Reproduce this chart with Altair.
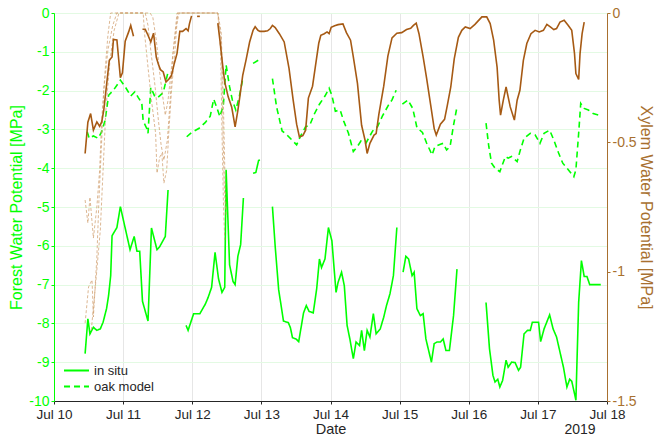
import altair as alt
import pandas as pd

# ---------------- data (day of July 2019, water potential in MPa) ----------------
# Forest water potential, in situ (left axis), gaps between segments
IS1_d = [10.45,10.49,10.52,10.57,10.62,10.67,10.71,10.76,10.79,10.82,10.84,10.91,10.96,11.10,11.16,11.20,11.24,11.28,11.36,11.41,11.49,11.53,11.61,11.65]
IS1_v = [-8.78,-7.88,-8.27,-8.10,-8.18,-8.14,-7.97,-7.62,-7.28,-6.77,-5.74,-5.53,-4.99,-6.10,-5.76,-6.14,-6.14,-7.43,-7.94,-5.54,-6.10,-6.02,-5.76,-4.56]
IS2_d = [11.91,11.94,12.02,12.11,12.19,12.23,12.28,12.33,12.38,12.43,12.47,12.49,12.54,12.59,12.62,12.66,12.70,12.74]
IS2_v = [-8.05,-8.18,-7.75,-7.75,-7.50,-7.33,-7.07,-6.17,-6.85,-7.20,-7.07,-4.04,-6.49,-6.92,-7.00,-6.27,-5.97,-4.77]
IS3_d = [12.88,12.92,12.96,12.98]
IS3_v = [-4.13,-4.11,-3.80,-3.79]
IS4_d = [13.16,13.20,13.25,13.32,13.39,13.42,13.45,13.50,13.54,13.61,13.65,13.69,13.75,13.80,13.84,13.87,13.92,13.97,14.02,14.08,
         14.11,14.16,14.20,14.24,14.28,14.33,14.37,14.42,14.45,14.49,14.53,14.57,14.62,14.66,14.72,14.77,14.81,14.86,14.91,14.96]
IS4_v = [-4.99,-6.02,-7.13,-7.94,-7.98,-8.11,-8.37,-8.40,-8.47,-7.73,-7.54,-7.69,-7.73,-7.11,-6.34,-6.56,-6.34,-5.53,-5.87,-7.20,
         -6.94,-6.68,-7.03,-8.05,-8.40,-8.91,-8.48,-8.57,-8.18,-8.70,-8.18,-8.35,-7.75,-8.27,-8.14,-7.84,-7.54,-7.24,-6.77,-5.53]
IS5_d = [15.05,15.09,15.13,15.18,15.21,15.25,15.30,15.34,15.38,15.46,15.50,15.54,15.59,15.63,15.67,15.72,15.78,15.83]
IS5_v = [-6.68,-6.27,-6.34,-6.77,-6.68,-7.62,-7.80,-7.75,-8.40,-9.00,-8.52,-8.48,-8.48,-8.40,-8.70,-8.70,-7.80,-6.60]
IS6_d = [16.25,16.30,16.35,16.38,16.42,16.45,16.49,16.54,16.57,16.62,16.67,16.72,16.75,16.80,16.85,16.89,16.92,16.99,17.01,17.04,
         17.09,17.17,17.22,17.27,17.32,17.37,17.42,17.46,17.49,17.53,17.55,17.59,17.63,17.67,17.71,17.75,17.80,17.91]
IS6_v = [-7.46,-8.65,-9.34,-9.51,-9.44,-9.64,-9.47,-8.95,-9.13,-9.00,-9.01,-9.21,-9.13,-8.27,-8.18,-8.18,-7.97,-7.97,-7.97,-8.47,
         -8.14,-7.78,-8.14,-8.35,-8.74,-9.13,-9.64,-9.44,-9.49,-9.81,-9.98,-7.46,-6.38,-6.79,-6.79,-7.00,-7.00,-7.00]

# Forest water potential, oak model (left axis)
OA_d = [10.48,10.51,10.57,10.64,10.69,10.74,10.79,10.86,10.96,11.03,11.11,11.17,11.22,11.27,11.29,11.34,11.36,11.40,11.46,11.50,11.58,11.65]
OA_v = [-3.06,-3.23,-3.17,-3.23,-3.06,-2.76,-2.12,-1.99,-1.73,-1.90,-2.14,-2.03,-2.18,-2.32,-2.78,-2.97,-3.10,-1.92,-2.16,-2.18,-2.05,-1.52]
OB_d = [11.92,11.99,12.10,12.19,12.26,12.31,12.36,12.40,12.45,12.49,12.54,12.58,12.63,12.68,12.73]
OB_v = [-3.19,-3.08,-2.97,-2.82,-2.66,-2.22,-2.46,-2.67,-2.37,-1.34,-1.90,-2.24,-2.50,-2.16,-1.70]
OC_d = [12.88,12.98]
OC_v = [-1.30,-1.19]
OD_d = [13.16,13.22,13.30,13.37,13.44,13.51,13.57,13.64,13.70,13.77,13.84,13.92,13.98,14.02,14.07,14.14,14.19,14.26,14.33,14.39,
        14.44,14.51,14.61,14.68,14.75,14.84,14.89,14.95]
OD_v = [-1.69,-2.42,-3.04,-3.14,-3.27,-3.40,-3.16,-2.93,-2.89,-2.59,-2.35,-2.14,-1.94,-2.12,-2.53,-2.50,-2.78,-3.10,-3.57,-3.44,
        -3.30,-3.36,-3.04,-2.93,-2.66,-2.37,-2.24,-1.99]
OE_d = [15.04,15.12,15.19,15.25,15.33,15.39,15.47,15.51,15.59,15.63,15.68,15.73,15.78,15.83]
OE_v = [-2.35,-2.24,-2.46,-2.95,-3.08,-3.35,-3.66,-3.44,-3.38,-3.36,-3.53,-3.44,-2.89,-2.42]
OF_d = [16.25,16.29,16.33,16.38,16.45,16.53,16.57,16.62,16.70,16.74,16.80,16.89,16.96,17.03,17.09,17.17,17.23,17.30,17.36,17.44,
        17.52,17.55,17.59,17.62,17.67,17.73,17.80,17.88]
OF_v = [-2.84,-3.44,-3.87,-4.00,-4.09,-3.70,-3.74,-3.70,-3.83,-3.57,-3.23,-3.10,-3.14,-3.36,-3.10,-3.02,-3.27,-3.61,-3.87,-4.04,
        -4.22,-4.04,-3.10,-2.33,-2.46,-2.50,-2.59,-2.63]

# Xylem water potential (right axis)
X1_d = [10.45,10.49,10.53,10.57,10.62,10.66,10.69,10.72,10.76,10.80,10.84,10.86,10.91,10.96,10.99,11.03,11.08,11.11,11.15]
X1_v = [-0.543,-0.422,-0.389,-0.453,-0.421,-0.438,-0.421,-0.376,-0.279,-0.183,-0.170,-0.102,-0.104,-0.250,-0.231,-0.109,-0.073,-0.048,-0.090]
X2_d = [11.28,11.32,11.36,11.40,11.44,11.48,11.51,11.54,11.58,11.62,11.66,11.70,11.74,11.78,11.82,11.86,11.91,11.94,11.96,11.99]
X2_v = [-0.063,-0.063,-0.086,-0.112,-0.078,-0.171,-0.198,-0.219,-0.228,-0.267,-0.256,-0.241,-0.195,-0.156,-0.071,-0.071,-0.060,-0.069,-0.041,-0.011]
X3_d = [12.07,12.11]
X3_v = [-0.013,-0.013]
X4_d = [12.37,12.40,12.44,12.47,12.52,12.57,12.60,12.62,12.66,12.69,
        12.73,12.78,12.83,12.88,12.91,12.95,12.98,13.04,13.09,13.13,
        13.16,13.20,13.26,13.33,13.40,13.46,13.51,13.55,13.60,13.64,
        13.68,13.74,13.78,13.83,13.86,13.91,13.95,13.98,14.01,14.06,
        14.11,14.18,14.23,14.29,14.33,14.39,14.45,14.50,14.53,14.57,
        14.63,14.66,14.70,14.77,14.83,14.89,14.96,15.03,15.10,15.16,
        15.20,15.24,15.28,15.34,15.39,15.45,15.50,15.53,15.59,15.65,
        15.69,15.74,15.79,15.85,15.90,15.95,16.02,16.09,16.19,16.26,
        16.31,16.36,16.41,16.44,16.46,16.50,16.54,16.60,16.66,16.70,
        16.74,16.79,16.84,16.90,16.96,17.02,17.08,17.13,17.18,17.23,
        17.27,17.32,17.38,17.44,17.49,17.53,17.55,17.59,17.61,17.64,17.67]
X4_v = [-0.039,-0.105,-0.202,-0.267,-0.324,-0.363,-0.408,-0.440,-0.376,-0.320,
        -0.241,-0.179,-0.112,-0.067,-0.053,-0.067,-0.071,-0.071,-0.069,-0.060,
        -0.048,-0.056,-0.080,-0.112,-0.214,-0.337,-0.430,-0.479,-0.474,-0.453,
        -0.329,-0.283,-0.209,-0.117,-0.086,-0.080,-0.073,-0.080,-0.055,-0.049,
        -0.045,-0.042,-0.076,-0.105,-0.170,-0.272,-0.434,-0.492,-0.543,-0.504,
        -0.472,-0.466,-0.391,-0.283,-0.167,-0.096,-0.078,-0.076,-0.064,-0.059,
        -0.048,-0.039,-0.080,-0.170,-0.252,-0.357,-0.447,-0.472,-0.430,-0.411,
        -0.357,-0.286,-0.177,-0.094,-0.067,-0.054,-0.060,-0.044,-0.015,-0.015,
        -0.041,-0.105,-0.209,-0.337,-0.395,-0.337,-0.286,-0.363,-0.414,-0.337,
        -0.299,-0.183,-0.118,-0.080,-0.067,-0.073,-0.067,-0.044,-0.054,-0.064,
        -0.060,-0.035,-0.028,-0.048,-0.067,-0.157,-0.234,-0.257,-0.157,-0.080,-0.035]

# Thin modelled xylem curves (right axis)
T1_d = [10.45,10.49,10.52,10.57,10.62,10.66,10.69,10.74,10.78,10.82,11.29,11.31,11.36,11.41,11.47,11.49,11.53,11.56,11.59,11.63,
        11.66,11.70,11.75,11.79,12.37,12.42,12.45,12.47,12.49]
T1_v = [-0.723,-0.812,-0.712,-0.870,-0.750,-0.608,-0.414,-0.221,-0.086,0,0,-0.078,-0.210,-0.337,-0.465,-0.619,-0.557,-0.542,-0.658,-0.608,
        -0.465,-0.299,-0.144,0,0,-0.078,-0.337,-0.596,-0.789]
T2_d = [10.45,10.50,10.55,10.57,10.62,10.65,10.69,10.72,10.78,10.85,10.91,11.39,11.43,11.48,11.53,11.58,11.61,11.65,11.70,11.75,
        11.78,12.37,12.42,12.44,12.46,12.48]
T2_v = [-1.199,-1.059,-1.032,-1.175,-0.944,-0.723,-0.492,-0.299,-0.144,-0.048,0,0,-0.017,-0.105,-0.233,-0.337,-0.395,-0.337,-0.210,-0.078,
        0,0,-0.105,-0.376,-0.646,-0.762]
T3_d = [10.54,10.58,10.62,10.67,10.71,10.75,10.81,10.87,10.94,11.32,11.36,11.40,11.46,11.51,11.55,11.59,11.64,11.68,11.72,11.77,
        11.81,12.37,12.41,12.43,12.45,12.47]
T3_v = [-1.226,-1.110,-0.994,-0.839,-0.608,-0.376,-0.183,-0.067,0,0,-0.048,-0.144,-0.279,-0.414,-0.511,-0.569,-0.492,-0.337,-0.163,-0.048,
        0,0,-0.144,-0.453,-0.723,-0.878]

X_TICKS = [10, 11, 12, 13, 14, 15, 16, 17, 18]
LEFT_TICKS = [0, -1, -2, -3, -4, -5, -6, -7, -8, -9, -10]
RIGHT_TICKS = [0, -0.5, -1, -1.5]
SERIES = ["in situ", "oak model"]


def rows(segs, series):
    out = []
    for name, days, vals in segs:
        assert len(days) == len(vals), name
        for d, v in zip(days, vals):
            out.append({"day": d, "value": v, "seg": name, "series": series})
    return out


green_df = pd.DataFrame(
    rows([("is1", IS1_d, IS1_v), ("is2", IS2_d, IS2_v), ("is3", IS3_d, IS3_v),
          ("is4", IS4_d, IS4_v), ("is5", IS5_d, IS5_v), ("is6", IS6_d, IS6_v)], "in situ")
    + rows([("oa", OA_d, OA_v), ("ob", OB_d, OB_v), ("oc", OC_d, OC_v),
            ("od", OD_d, OD_v), ("oe", OE_d, OE_v), ("of", OF_d, OF_v)], "oak model"))
xylem_df = pd.DataFrame(rows([("x1", X1_d, X1_v), ("x2", X2_d, X2_v), ("x3", X3_d, X3_v), ("x4", X4_d, X4_v)], "xylem"))
thin_df = pd.DataFrame(rows([("t1", T1_d, T1_v), ("t2", T2_d, T2_v), ("t3", T3_d, T3_v)], "thin"))

FONT = "Liberation Sans"
GREEN = "#00FF00"
BROWN = "#A65A14"
AXBROWN = "#A8702F"
DARK = "#262626"

x_enc = alt.X(
    "day:Q",
    scale=alt.Scale(domain=[10, 18], nice=False, zero=False),
    axis=alt.Axis(values=X_TICKS, labelExpr="'Jul ' + datum.value", title="Date",
                  grid=True, gridColor="#E6E6E6", domainColor=DARK, tickColor=DARK,
                  labelColor=DARK, titleColor=DARK, labelFont=FONT, titleFont=FONT,
                  labelFontSize=13.5, titleFontSize=14.5, titleFontWeight="normal",
                  tickSize=3, labelPadding=3, titleY=32, titleBaseline="alphabetic",
                  labelFlush=False, labelOverlap=False),
)

green_lines = alt.Chart(green_df).mark_line(color=GREEN, strokeWidth=1.6).encode(
    x=x_enc,
    y=alt.Y("value:Q",
            scale=alt.Scale(domain=[-10, 0], nice=False, zero=False),
            axis=alt.Axis(orient="left", values=LEFT_TICKS, labelExpr="'' + datum.value",
                          title="Forest Water Potential [MPa]", grid=True, gridColor="#E3FAE3",
                          domainColor=GREEN, tickColor=GREEN, labelColor=GREEN, titleColor=GREEN,
                          labelFont=FONT, titleFont=FONT, labelFontSize=14, titleFontSize=16,
                          titleFontWeight="normal", tickSize=3, labelPadding=2, titlePadding=4)),
    strokeDash=alt.StrokeDash(
        "series:N",
        scale=alt.Scale(domain=SERIES, range=[[1, 0], [6, 4]]),
        legend=alt.Legend(title=None, orient="none", legendX=9, legendY=351,
                          symbolType="stroke", symbolStrokeColor=GREEN, symbolStrokeWidth=2,
                          symbolSize=625, clipHeight=13, rowPadding=2, labelOffset=4,
                          labelFont=FONT, labelFontSize=13, labelColor=DARK, padding=0),
    ),
    detail="seg:N",
)

y_right = alt.Y("value:Q",
                scale=alt.Scale(domain=[-1.5, 0], nice=False, zero=False),
                axis=alt.Axis(orient="right", values=RIGHT_TICKS, labelExpr="'' + datum.value",
                              title="Xylem Water Potential [MPa]", grid=False,
                              domainColor=AXBROWN, tickColor=AXBROWN, labelColor=AXBROWN,
                              titleColor=AXBROWN, labelFont=FONT, titleFont=FONT,
                              labelFontSize=14, titleFontSize=16, titleFontWeight="normal",
                              tickSize=3, labelPadding=2, titlePadding=1))

thin_lines = alt.Chart(thin_df).mark_line(color="#CE9B68", strokeWidth=0.9, strokeDash=[3, 2], opacity=0.8).encode(
    x=x_enc, y=y_right, detail="seg:N")
xylem_line = alt.Chart(xylem_df).mark_line(color=BROWN, strokeWidth=1.6).encode(
    x=x_enc, y=y_right, detail="seg:N")
brown = alt.layer(thin_lines, xylem_line)

year = alt.Chart(pd.DataFrame({"t": ["2019"]})).mark_text(
    font=FONT, fontSize=14, color=DARK, align="center", baseline="middle"
).encode(x=alt.value(526), y=alt.value(417), text="t:N")

chart = alt.layer(green_lines, brown, year).resolve_scale(y="independent").properties(
    width=553, height=388,
    autosize=alt.AutoSizeParams(type="none"),
    padding={"left": 54, "top": 13, "right": 47, "bottom": 35},
    background="white",
).configure_view(stroke="#D9D9D9")

chart.save("out.html", embed_options={"renderer": "svg", "actions": False})
